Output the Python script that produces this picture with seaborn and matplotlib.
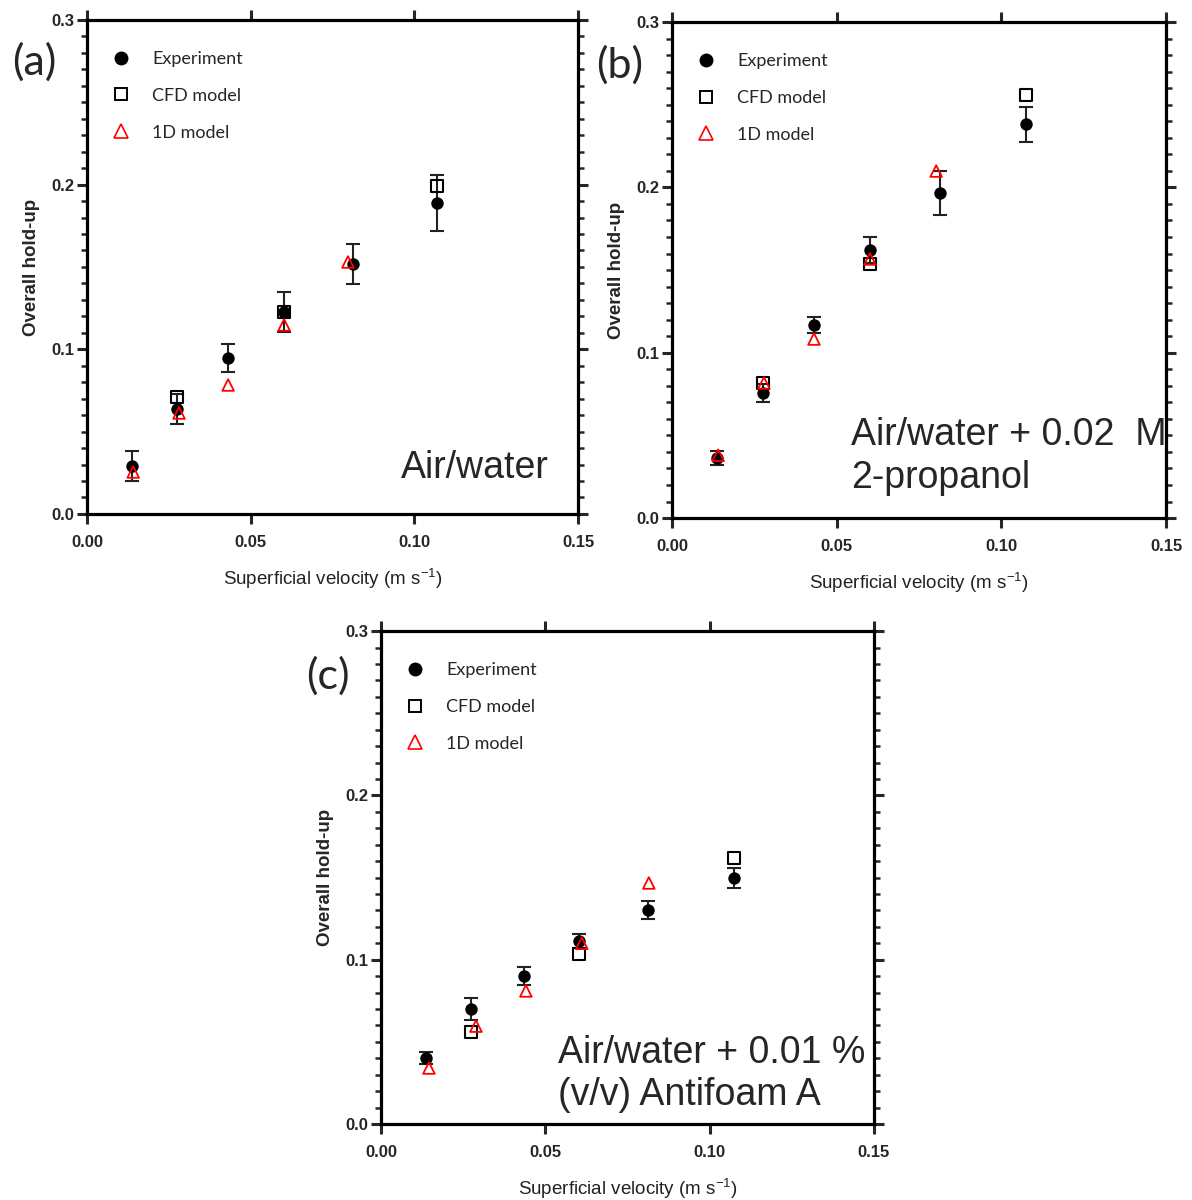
import matplotlib
matplotlib.use("Agg")
import matplotlib.pyplot as plt
from matplotlib.lines import Line2D
from matplotlib.ticker import MultipleLocator, FormatStrFormatter
import seaborn as sns

# (a) Air/water
a_exp_x = [0.0137, 0.0275, 0.0431, 0.0602, 0.0812, 0.1069]
a_exp_y = [0.029, 0.0638, 0.0947, 0.1226, 0.1518, 0.1888]
a_exp_err = [0.009, 0.009, 0.0088, 0.012, 0.012, 0.017]
a_cfd_x = [0.0275, 0.0602, 0.1069]
a_cfd_y = [0.071, 0.1226, 0.199]
a_1d_x = [0.0141, 0.0281, 0.0431, 0.0602, 0.0797]
a_1d_y = [0.0255, 0.0613, 0.0783, 0.1148, 0.153]

# (b) Air/water + 0.02 M 2-propanol
b_exp_x = [0.0137, 0.0276, 0.0431, 0.0601, 0.0814, 0.1075]
b_exp_y = [0.0363, 0.0756, 0.1168, 0.162, 0.1966, 0.2383]
b_exp_err = [0.004, 0.0055, 0.0047, 0.008, 0.0134, 0.0106]
b_cfd_x = [0.0276, 0.0601, 0.1075]
b_cfd_y = [0.0817, 0.1537, 0.2559]
b_1d_x = [0.0140, 0.0279, 0.0431, 0.0601, 0.0802]
b_1d_y = [0.038, 0.0817, 0.1083, 0.1567, 0.2099]

# (c) Air/water + 0.01 % (v/v) Antifoam A
c_exp_x = [0.0137, 0.0274, 0.0435, 0.0602, 0.0812, 0.1074]
c_exp_y = [0.0402, 0.070, 0.090, 0.1114, 0.1302, 0.1497]
c_exp_err = [0.0037, 0.0064, 0.0055, 0.0042, 0.0053, 0.0063]
c_cfd_x = [0.0274, 0.0602, 0.1074]
c_cfd_y = [0.056, 0.1035, 0.1619]
c_1d_x = [0.0146, 0.0289, 0.0441, 0.0611, 0.0815]
c_1d_y = [0.0341, 0.0596, 0.081, 0.110, 0.1467]

panel_labels = ["(a)", "(b)", "(c)"]
panel_texts = ["Air/water", "Air/water + 0.02  M\n2-propanol",
               "Air/water + 0.01 %\n(v/v) Antifoam A"]
legend_labels = ["Experiment", "CFD model", "1D model"]

sns.set_style("ticks")
plt.rcParams["font.family"] = ["Liberation Sans", "DejaVu Sans"]
plt.rcParams["mathtext.default"] = "regular"


def draw_panel(ax, exp_x, exp_y, exp_err, cfd_x, cfd_y, x1d, y1d):
    ax.errorbar(exp_x, exp_y, yerr=exp_err, fmt="none", ecolor="#222222",
                elinewidth=1.5, capsize=5, capthick=1.5, zorder=2)
    sns.scatterplot(x=exp_x, y=exp_y, ax=ax, color="black", marker="o",
                    s=80, linewidth=0, zorder=3)
    sns.scatterplot(x=cfd_x, y=cfd_y, ax=ax, marker="s", s=70,
                    facecolor="none", edgecolor="black", linewidth=1.5,
                    zorder=4)
    sns.scatterplot(x=x1d, y=y1d, ax=ax, marker="^", s=70,
                    facecolor="none", edgecolor="red", linewidth=1.3,
                    zorder=5)

    ax.set_xlim(0, 0.15)
    ax.set_ylim(0, 0.3)
    ax.xaxis.set_major_locator(MultipleLocator(0.05))
    ax.yaxis.set_major_locator(MultipleLocator(0.1))
    ax.yaxis.set_minor_locator(MultipleLocator(0.01))
    ax.xaxis.set_major_formatter(FormatStrFormatter("%.2f"))
    ax.yaxis.set_major_formatter(FormatStrFormatter("%.1f"))
    for sp in ax.spines.values():
        sp.set_visible(True)
        sp.set_linewidth(2.3)
        sp.set_color("black")
    ax.tick_params(which="major", direction="out", length=7, width=2.2,
                   top=True, right=True, labeltop=False, labelright=False,
                   labelsize=12, pad=2)
    ax.tick_params(axis="x", which="major", pad=8)
    ax.tick_params(which="minor", direction="out", length=4, width=1.8,
                   left=True, right=True)
    for lab in ax.get_xticklabels() + ax.get_yticklabels():
        lab.set_fontweight("bold")
    ax.set_xlabel("Superficial velocity (m s$^{-1}$)", fontsize=13.5,
                  labelpad=12, color="#222222")
    ax.set_ylabel("Overall hold-up", fontsize=13.5, fontweight="bold",
                  labelpad=8)

    handles = [
        Line2D([], [], linestyle="none", marker="o", markersize=9,
               color="black"),
        Line2D([], [], linestyle="none", marker="s", markersize=9,
               markerfacecolor="none", markeredgecolor="black",
               markeredgewidth=1.4),
        Line2D([], [], linestyle="none", marker="^", markersize=10,
               markerfacecolor="none", markeredgecolor="red",
               markeredgewidth=1.2),
    ]
    ax.legend(handles, legend_labels, loc="upper left",
              bbox_to_anchor=(0.0, 0.97), frameon=False,
              labelspacing=1.15, handletextpad=0.7,
              prop={"family": "Lato", "size": 13})


fig = plt.figure(figsize=(11.92, 12), dpi=100)
ax_a = fig.add_axes([0.073, 0.5717, 0.412, 0.4117])
ax_b = fig.add_axes([0.5638, 0.5683, 0.4144, 0.4133])
ax_c = fig.add_axes([0.3196, 0.0633, 0.4136, 0.4108])

draw_panel(ax_a, a_exp_x, a_exp_y, a_exp_err, a_cfd_x, a_cfd_y, a_1d_x, a_1d_y)
draw_panel(ax_b, b_exp_x, b_exp_y, b_exp_err, b_cfd_x, b_cfd_y, b_1d_x, b_1d_y)
draw_panel(ax_c, c_exp_x, c_exp_y, c_exp_err, c_cfd_x, c_cfd_y, c_1d_x, c_1d_y)

ax_a.text(0.141, 0.022, panel_texts[0], ha="right", va="baseline",
          fontsize=27)
ax_b.text(0.0544, 0.061, panel_texts[1], ha="left", va="top",
          fontsize=27, linespacing=1.25)
ax_c.text(0.054, 0.054, panel_texts[2], ha="left", va="top",
          fontsize=27, linespacing=1.2)

fig.text(0.029, 0.948, panel_labels[0], fontsize=31, family="Lato",
         ha="center", va="center")
fig.text(0.520, 0.946, panel_labels[1], fontsize=31, family="Lato",
         ha="center", va="center")
fig.text(0.275, 0.437, panel_labels[2], fontsize=31, family="Lato",
         ha="center", va="center")

fig.savefig("out.png", dpi=100)
